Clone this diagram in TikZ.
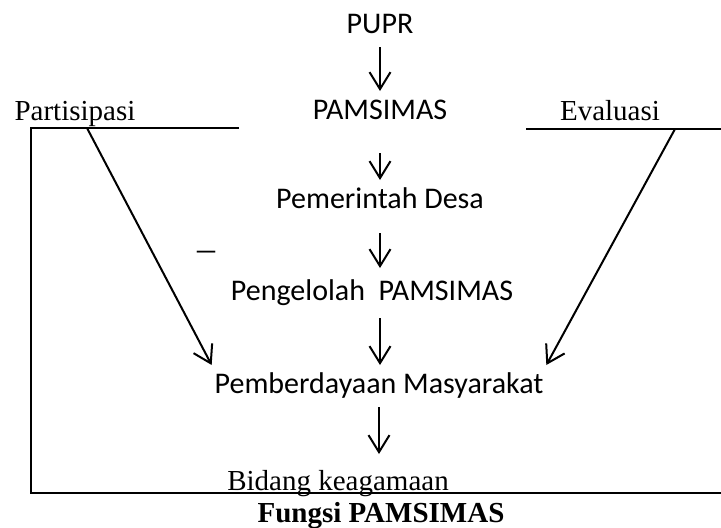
\documentclass[tikz,border=0pt]{standalone}
\usepackage{fontspec}
\setmainfont{Liberation Serif}
\newfontfamily\calibri{Carlito}
\usetikzlibrary{arrows.meta}
\begin{document}
\begin{tikzpicture}[
  x=1pt, y=-1pt, line width=2pt,
  every node/.style={inner xsep=2pt, inner ysep=7pt, text height=20pt, text depth=6pt,
    anchor=base, font=\fontsize{29}{34}\selectfont},
  sans/.style={font=\calibri\fontsize{30}{36}\selectfont},
  panah/.style={-{Straight Barb[length=17pt, width=21pt]}}
]
\useasboundingbox (0,0) rectangle (721,528);
% alur tengah
\node[sans] (pupr) at (380,33) {PUPR};
\node[sans] (pamsimas) at (380,119) {PAMSIMAS};
\node[sans] (pemdes) at (380,208) {Pemerintah Desa};
\node[sans] (pengelola) at (372,300) {Pengelolah~~PAMSIMAS};
\node[sans] (pemberdayaan) at (379,393) {Pemberdayaan Masyarakat};
\node (bidang) at (338,490) {Bidang keagamaan};
\node[font=\fontsize{29}{34}\selectfont\bfseries] (judul) at (381,522) {Fungsi PAMSIMAS};
% kiri dan kanan
\node (partisipasi) at (75,120) {Partisipasi};
\node (evaluasi) at (610,120) {Evaluasi};
\node[font=\fontsize{36}{40}\selectfont] (strip) at (206,260) {–};
\coordinate (p1) at (87,128);
\coordinate (e1) at (675,129);
\draw (239,128) -- (31,128) -- (31,493) -- (721,493);
\draw (526,129) -- (721,129);
\draw[panah] (pupr.south) -- (pupr.south |- pamsimas.north);
\draw[panah, shorten <=20pt] (pamsimas.south) -- (pamsimas.south |- pemdes.north);
\draw[panah, shorten <=11pt, shorten >=4pt] (pemdes.south) -- (pemdes.south |- pengelola.north);
\draw[panah, shorten <=4pt] (pemdes.south |- pengelola.south) -- (pemdes.south |- pemberdayaan.north);
\draw[panah, shorten >=8pt] (pemberdayaan.south) -- (pemberdayaan.south |- bidang.north);
\draw[panah] (p1) -- (pemberdayaan.north west);
\draw[panah] (e1) -- (pemberdayaan.north east);
\end{tikzpicture}
\end{document}
